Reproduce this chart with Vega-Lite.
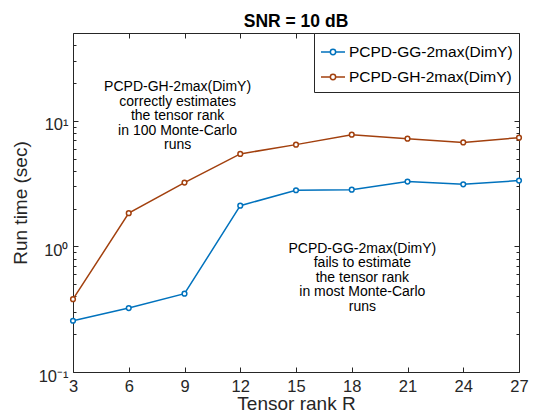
{
  "$schema": "https://vega.github.io/schema/vega-lite/v6.json",
  "width": 446,
  "height": 339,
  "autosize": "none",
  "padding": {"left": 73, "top": 33, "right": 14, "bottom": 40},
  "background": "white",
  "config": {
    "font": "Liberation Sans",
    "view": {"stroke": null},
    "axis": {
      "domainColor": "#262626", "tickColor": "#262626", "labelColor": "#262626", "titleColor": "#262626",
      "grid": false, "labelFont": "Liberation Sans", "titleFont": "Liberation Sans", "titleFontWeight": "normal",
      "labelFontSize": 16.5, "titleFontSize": 19, "domainWidth": 1, "tickWidth": 1,
      "labelFlush": false, "labelOverlap": false, "labelBound": false
    }
  },
  "title": {"text": "SNR = 10 dB", "fontSize": 17.5, "fontWeight": "bold", "color": "black", "offset": 2, "anchor": "middle", "font": "Liberation Sans"},
  "datasets": {
    "runs": [
      {"R": 3, "time": 0.256, "method": "PCPD-GG-2max(DimY)"},
      {"R": 6, "time": 0.323, "method": "PCPD-GG-2max(DimY)"},
      {"R": 9, "time": 0.42, "method": "PCPD-GG-2max(DimY)"},
      {"R": 12, "time": 2.11, "method": "PCPD-GG-2max(DimY)"},
      {"R": 15, "time": 2.80, "method": "PCPD-GG-2max(DimY)"},
      {"R": 18, "time": 2.83, "method": "PCPD-GG-2max(DimY)"},
      {"R": 21, "time": 3.28, "method": "PCPD-GG-2max(DimY)"},
      {"R": 24, "time": 3.12, "method": "PCPD-GG-2max(DimY)"},
      {"R": 27, "time": 3.34, "method": "PCPD-GG-2max(DimY)"},
      {"R": 3, "time": 0.38, "method": "PCPD-GH-2max(DimY)"},
      {"R": 6, "time": 1.84, "method": "PCPD-GH-2max(DimY)"},
      {"R": 9, "time": 3.22, "method": "PCPD-GH-2max(DimY)"},
      {"R": 12, "time": 5.45, "method": "PCPD-GH-2max(DimY)"},
      {"R": 15, "time": 6.46, "method": "PCPD-GH-2max(DimY)"},
      {"R": 18, "time": 7.75, "method": "PCPD-GH-2max(DimY)"},
      {"R": 21, "time": 7.21, "method": "PCPD-GH-2max(DimY)"},
      {"R": 24, "time": 6.73, "method": "PCPD-GH-2max(DimY)"},
      {"R": 27, "time": 7.34, "method": "PCPD-GH-2max(DimY)"}
    ],
    "notes": [
      {"x": 8.63, "y": 21.1, "label": "PCPD-GH-2max(DimY)\ncorrectly estimates\n the tensor rank\nin 100 Monte-Carlo\nruns"},
      {"x": 18.57, "y": 1.09, "label": "PCPD-GG-2max(DimY)\nfails to estimate\n the tensor rank\nin most Monte-Carlo\nruns"}
    ]
  },
  "layer": [
    {
      "data": {"name": "runs"},
      "mark": {"type": "line", "strokeWidth": 1.5, "point": {"filled": false, "fill": "white", "size": 22, "strokeWidth": 1.5}},
      "encoding": {
        "x": {"field": "R", "type": "quantitative",
          "scale": {"domain": [3, 27], "nice": false, "zero": false},
          "axis": {"orient": "bottom", "values": [3, 6, 9, 12, 15, 18, 21, 24, 27], "tickSize": -5, "labelPadding": 11, "title": "Tensor rank R", "titlePadding": 0}},
        "y": {"field": "time", "type": "quantitative",
          "scale": {"type": "log", "domain": [0.1, 50], "nice": false},
          "axis": {"orient": "left", "values": [0.1, 1, 10], "tickSize": -5, "labelPadding": 10, "labelOffset": 4,
            "labelExpr": "datum.value < 0.5 ? '10⁻¹' : (datum.value < 5 ? '10⁰' : '10¹')",
            "title": "Run time (sec)", "titlePadding": 8}},
        "color": {"field": "method", "type": "nominal",
          "scale": {"domain": ["PCPD-GG-2max(DimY)", "PCPD-GH-2max(DimY)"], "range": ["#0072BD", "#A2400E"]},
          "legend": {"title": null, "orient": "top-right", "offset": 0, "padding": 6, "rowPadding": 3,
            "strokeColor": "#262626", "fillColor": "white", "labelFontSize": 15.5, "labelColor": "black", "labelOffset": 3, "labelLimit": 300,
            "symbolType": "M-1,0L-0.22,0M0.22,0L1,0M0.22,0A0.22,0.22,0,1,1,-0.22,0A0.22,0.22,0,1,1,0.22,0",
            "symbolSize": 576, "symbolStrokeWidth": 1.5, "symbolFillColor": "white"}}
      }
    },
    {
      "data": {"name": "notes"},
      "mark": {"type": "text", "align": "center", "baseline": "top", "fontSize": 14, "lineHeight": 14.6, "lineBreak": "\n", "color": "black"},
      "encoding": {
        "x": {"field": "x", "type": "quantitative",
          "axis": {"orient": "top", "values": [3, 6, 9, 12, 15, 18, 21, 24, 27], "tickSize": -5, "labels": false, "title": null}},
        "y": {"field": "y", "type": "quantitative",
          "axis": {"orient": "right", "values": [0.1, 1, 10], "tickSize": -5, "labels": false, "title": null}},
        "text": {"field": "label"}
      }
    },
    {
      "data": {"name": "runs"},
      "mark": {"type": "point", "opacity": 0},
      "encoding": {
        "x": {"field": "R", "type": "quantitative", "axis": null},
        "y": {"field": "time", "type": "quantitative",
          "axis": {"orient": "left", "values": [0.2, 0.3, 0.4, 0.5, 0.6, 0.7, 0.8, 0.9, 2, 3, 4, 5, 6, 7, 8, 9, 20, 30, 40], "tickSize": -3, "labels": false, "title": null, "domain": false}}
      }
    },
    {
      "data": {"name": "runs"},
      "mark": {"type": "point", "opacity": 0},
      "encoding": {
        "x": {"field": "R", "type": "quantitative", "axis": null},
        "y": {"field": "time", "type": "quantitative",
          "axis": {"orient": "right", "values": [0.2, 0.3, 0.4, 0.5, 0.6, 0.7, 0.8, 0.9, 2, 3, 4, 5, 6, 7, 8, 9, 20, 30, 40], "tickSize": -3, "labels": false, "title": null, "domain": false}}
      }
    }
  ],
  "resolve": {"axis": {"x": "independent", "y": "independent"}}
}
